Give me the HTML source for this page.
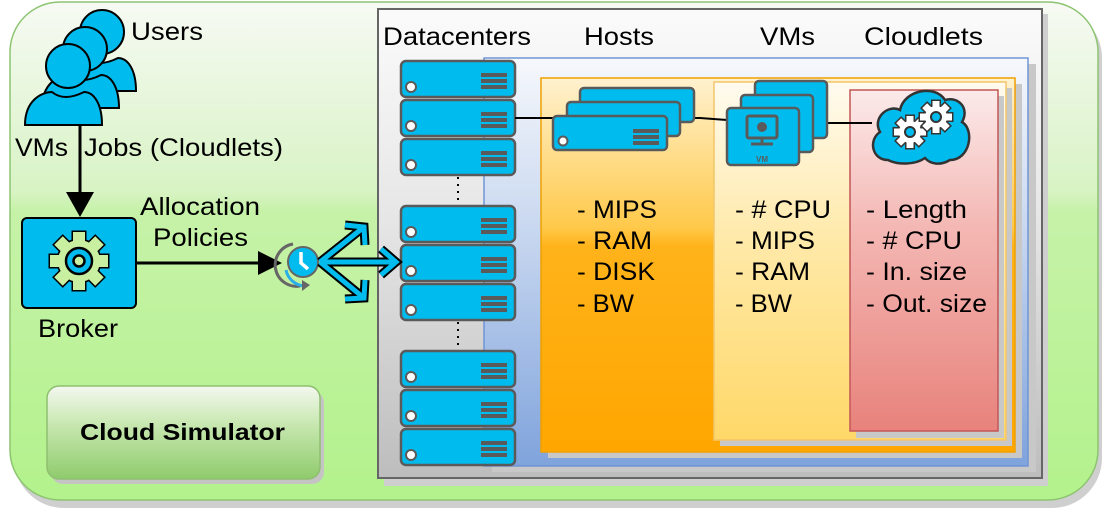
<!DOCTYPE html>
<html><head><meta charset="utf-8">
<style>
html,body{margin:0;padding:0;background:#fff;}
svg{display:block;}
text{font-family:"Liberation Sans",Arial,sans-serif;fill:#000;}
</style></head>
<body>
<svg width="1103" height="511" viewBox="0 0 1103 511" xmlns="http://www.w3.org/2000/svg">
<defs>
<linearGradient id="gOuter" x1="0" y1="0" x2="0" y2="1">
<stop offset="0" stop-color="#f7faf4"/><stop offset="0.38" stop-color="#d8f3c4"/><stop offset="0.42" stop-color="#c6f2a8"/><stop offset="1" stop-color="#b3f28c"/></linearGradient>
<linearGradient id="gGray" x1="0" y1="0" x2="0" y2="1">
<stop offset="0" stop-color="#fbfbfb"/><stop offset="0.45" stop-color="#e6e6e6"/><stop offset="1" stop-color="#bdbdbd"/></linearGradient>
<linearGradient id="gBlue" x1="0" y1="0" x2="0" y2="1">
<stop offset="0" stop-color="#f6f8fc"/><stop offset="0.45" stop-color="#c5d5ef"/><stop offset="1" stop-color="#7fa3dc"/></linearGradient>
<linearGradient id="gOrange" x1="0" y1="0" x2="0" y2="1">
<stop offset="0" stop-color="#fff2d0"/><stop offset="0.4" stop-color="#ffc94a"/><stop offset="0.45" stop-color="#ffb31a"/><stop offset="1" stop-color="#ffa600"/></linearGradient>
<linearGradient id="gYellow" x1="0" y1="0" x2="0" y2="1">
<stop offset="0" stop-color="#fffbef"/><stop offset="0.45" stop-color="#ffe9a8"/><stop offset="1" stop-color="#ffd868"/></linearGradient>
<linearGradient id="gPink" x1="0" y1="0" x2="0" y2="1">
<stop offset="0" stop-color="#fbeaea"/><stop offset="0.4" stop-color="#f4b8b4"/><stop offset="1" stop-color="#e8827c"/></linearGradient>
<linearGradient id="gBtn" x1="0" y1="0" x2="0" y2="1">
<stop offset="0" stop-color="#f4f8f0"/><stop offset="0.4" stop-color="#c9e8b2"/><stop offset="1" stop-color="#8fcb6c"/></linearGradient>
<g id="srv">
<rect x="0" y="0" width="114" height="36" rx="5" fill="#00bcee" stroke="#5a5a5a" stroke-width="2.5"/>
<circle cx="10" cy="26" r="5" fill="#fff" stroke="#5a5a5a" stroke-width="2"/>
<rect x="80" y="12" width="26" height="4" fill="#5a5a5a"/><rect x="80" y="18" width="26" height="4" fill="#5a5a5a"/><rect x="80" y="24" width="26" height="4" fill="#5a5a5a"/>
</g>
<g id="vm">
<rect x="0" y="0" width="72" height="57" rx="4" fill="#00bcee" stroke="#5a5a5a" stroke-width="2.5"/>
</g>
</defs>

<rect x="14" y="8" width="1088" height="500" rx="50" fill="#cfcfcf"/>
<rect x="10" y="2" width="1088" height="498" rx="50" fill="url(#gOuter)" stroke="#8dc471" stroke-width="1.5"/>

<rect x="384" y="14" width="664" height="472" fill="#cfcfcf"/>
<rect x="378" y="9" width="664" height="469" fill="url(#gGray)" stroke="#666" stroke-width="2"/>
<rect x="492" y="64" width="544" height="408" fill="#c8c8c8"/>
<rect x="484" y="58" width="544" height="408" fill="url(#gBlue)" stroke="#6f95d6" stroke-width="1.5"/>
<rect x="548" y="84" width="474" height="374" fill="#c8c8c8"/>
<rect x="541" y="78" width="474" height="374" fill="url(#gOrange)" stroke="#f0a000" stroke-width="1.5"/>
<rect x="720" y="88" width="292" height="358" fill="#c8c8c8"/>
<rect x="714" y="82" width="292" height="358" fill="url(#gYellow)" stroke="#f2c66a" stroke-width="1.5"/>
<rect x="856" y="96" width="148" height="342" fill="#c8c8c8"/>
<rect x="850" y="90" width="148" height="341" fill="url(#gPink)" stroke="#c25656" stroke-width="1.5"/>

<g font-size="25">
<text x="383" y="45" textLength="148" lengthAdjust="spacingAndGlyphs">Datacenters</text>
<text x="584" y="45" textLength="70" lengthAdjust="spacingAndGlyphs">Hosts</text>
<text x="760" y="45" textLength="55" lengthAdjust="spacingAndGlyphs">VMs</text>
<text x="864" y="45" textLength="119" lengthAdjust="spacingAndGlyphs">Cloudlets</text>
</g>

<use href="#srv" x="401" y="61"/><use href="#srv" x="401" y="100"/><use href="#srv" x="401" y="139"/>
<use href="#srv" x="401" y="206"/><use href="#srv" x="401" y="245"/><use href="#srv" x="401" y="284"/>
<use href="#srv" x="401" y="351"/><use href="#srv" x="401" y="390"/><use href="#srv" x="401" y="429"/>
<line x1="458" y1="177" x2="458" y2="205" stroke="#000" stroke-width="2" stroke-dasharray="2,5"/>
<line x1="458" y1="322" x2="458" y2="350" stroke="#000" stroke-width="2" stroke-dasharray="2,5"/>

<polyline points="515,118 553,118" stroke="#000" stroke-width="2" fill="none"/>
<polyline points="680,118 700,118 727,120" stroke="#000" stroke-width="2" fill="none"/>
<polyline points="812,123 872,123" stroke="#000" stroke-width="2" fill="none"/>

<rect x="580" y="88" width="114" height="34" rx="4" fill="#00bcee" stroke="#5a5a5a" stroke-width="2.5"/>
<rect x="567" y="102" width="113" height="34" rx="4" fill="#00bcee" stroke="#5a5a5a" stroke-width="2.5"/>
<g transform="translate(553,116)"><rect x="0" y="0" width="114" height="34" rx="4" fill="#00bcee" stroke="#5a5a5a" stroke-width="2.5"/>
<circle cx="10" cy="25" r="4.5" fill="#fff" stroke="#5a5a5a" stroke-width="2"/>
<rect x="80" y="13" width="26" height="4" fill="#5a5a5a"/><rect x="80" y="19" width="26" height="4" fill="#5a5a5a"/><rect x="80" y="25" width="26" height="4" fill="#5a5a5a"/></g>

<use href="#vm" x="755" y="81"/><use href="#vm" x="741" y="95"/><use href="#vm" x="727" y="108"/>
<g transform="translate(727,108)" fill="none" stroke="#5a5a5a" stroke-width="3">
<rect x="20" y="8" width="30" height="22" rx="2"/>
<line x1="35" y1="30" x2="35" y2="35"/><line x1="24" y1="36" x2="46" y2="36"/>
<circle cx="35" cy="19" r="5" fill="#5a5a5a" stroke="none"/>
</g>
<text x="762" y="162" font-size="8" font-weight="bold" text-anchor="middle" style="fill:#5a5a5a">VM</text>

<path d="M888,160 C872,160 868,140 880,132 C872,118 888,104 900,110 C904,90 935,84 945,100 C958,96 970,108 962,122 C975,130 970,160 950,160 C940,166 930,164 925,158 C915,165 898,165 888,160 Z" fill="#00bcee" stroke="#333" stroke-width="2.5"/>
<g id="cg" transform="translate(910,132)">
<g stroke="#333" stroke-width="3" fill="#fff">
<rect x="9" y="-3.5" width="7" height="7"/><rect x="9" y="-3.5" width="7" height="7" transform="rotate(45)"/><rect x="9" y="-3.5" width="7" height="7" transform="rotate(90)"/><rect x="9" y="-3.5" width="7" height="7" transform="rotate(135)"/><rect x="9" y="-3.5" width="7" height="7" transform="rotate(180)"/><rect x="9" y="-3.5" width="7" height="7" transform="rotate(225)"/><rect x="9" y="-3.5" width="7" height="7" transform="rotate(270)"/><rect x="9" y="-3.5" width="7" height="7" transform="rotate(315)"/>
<circle r="11"/></g>
<g fill="#fff"><rect x="9" y="-3.5" width="7" height="7"/><rect x="9" y="-3.5" width="7" height="7" transform="rotate(45)"/><rect x="9" y="-3.5" width="7" height="7" transform="rotate(90)"/><rect x="9" y="-3.5" width="7" height="7" transform="rotate(135)"/><rect x="9" y="-3.5" width="7" height="7" transform="rotate(180)"/><rect x="9" y="-3.5" width="7" height="7" transform="rotate(225)"/><rect x="9" y="-3.5" width="7" height="7" transform="rotate(270)"/><rect x="9" y="-3.5" width="7" height="7" transform="rotate(315)"/><circle r="11"/></g>
<circle r="5" fill="#00bcee" stroke="#333" stroke-width="2"/>
</g>
<use href="#cg" transform="translate(26,-15)"/>

<g font-size="25">
<text x="577" y="218" textLength="80" lengthAdjust="spacingAndGlyphs">- MIPS</text>
<text x="577" y="249" textLength="75" lengthAdjust="spacingAndGlyphs">- RAM</text>
<text x="577" y="280" textLength="78" lengthAdjust="spacingAndGlyphs">- DISK</text>
<text x="577" y="312" textLength="57" lengthAdjust="spacingAndGlyphs">- BW</text>
<text x="735" y="218" textLength="96" lengthAdjust="spacingAndGlyphs">- # CPU</text>
<text x="735" y="249" textLength="80" lengthAdjust="spacingAndGlyphs">- MIPS</text>
<text x="735" y="280" textLength="75" lengthAdjust="spacingAndGlyphs">- RAM</text>
<text x="735" y="312" textLength="57" lengthAdjust="spacingAndGlyphs">- BW</text>
<text x="866" y="218" textLength="101" lengthAdjust="spacingAndGlyphs">- Length</text>
<text x="866" y="249" textLength="96" lengthAdjust="spacingAndGlyphs">- # CPU</text>
<text x="866" y="280" textLength="101" lengthAdjust="spacingAndGlyphs">- In. size</text>
<text x="866" y="312" textLength="121" lengthAdjust="spacingAndGlyphs">- Out. size</text>
</g>

<g fill="#00bcee" stroke="#000" stroke-width="2">
<g transform="translate(34,-34)"><path d="M25,125 C25,100 42,92 52,92 Q64,102 84,92 C94,92 102,104 102,125 Z"/><circle cx="68" cy="66" r="22"/></g>
<g transform="translate(17,-17)"><path d="M25,125 C25,100 42,92 52,92 Q64,102 84,92 C94,92 102,104 102,125 Z"/><circle cx="68" cy="66" r="22"/></g>
<g><path d="M25,125 C25,100 42,92 52,92 Q64,102 84,92 C94,92 102,104 102,125 Z"/><circle cx="68" cy="66" r="22"/></g>
</g>
<g font-size="25">
<text x="131" y="40" textLength="72" lengthAdjust="spacingAndGlyphs">Users</text>
<text x="15" y="156" textLength="53" lengthAdjust="spacingAndGlyphs">VMs</text>
<text x="84" y="156" textLength="199" lengthAdjust="spacingAndGlyphs">Jobs (Cloudlets)</text>
<text x="140" y="215" textLength="120" lengthAdjust="spacingAndGlyphs">Allocation</text>
<text x="153" y="246" textLength="95" lengthAdjust="spacingAndGlyphs">Policies</text>
<text x="38" y="337" textLength="80" lengthAdjust="spacingAndGlyphs">Broker</text>
</g>

<line x1="80" y1="125" x2="80" y2="200" stroke="#000" stroke-width="3"/>
<polygon points="66,192 94,192 80,217" fill="#000"/>

<rect x="22" y="218" width="114" height="90" rx="5" fill="#00bcee" stroke="#000" stroke-width="2"/>
<g transform="translate(79,261)">
<g stroke="#000" stroke-width="3" fill="#c8f0a0">
<rect x="18" y="-6" width="11" height="12"/><rect x="18" y="-6" width="11" height="12" transform="rotate(45)"/><rect x="18" y="-6" width="11" height="12" transform="rotate(90)"/><rect x="18" y="-6" width="11" height="12" transform="rotate(135)"/><rect x="18" y="-6" width="11" height="12" transform="rotate(180)"/><rect x="18" y="-6" width="11" height="12" transform="rotate(225)"/><rect x="18" y="-6" width="11" height="12" transform="rotate(270)"/><rect x="18" y="-6" width="11" height="12" transform="rotate(315)"/>
<circle r="21"/></g>
<g fill="#c8f0a0"><rect x="18" y="-6" width="11" height="12"/><rect x="18" y="-6" width="11" height="12" transform="rotate(45)"/><rect x="18" y="-6" width="11" height="12" transform="rotate(90)"/><rect x="18" y="-6" width="11" height="12" transform="rotate(135)"/><rect x="18" y="-6" width="11" height="12" transform="rotate(180)"/><rect x="18" y="-6" width="11" height="12" transform="rotate(225)"/><rect x="18" y="-6" width="11" height="12" transform="rotate(270)"/><rect x="18" y="-6" width="11" height="12" transform="rotate(315)"/><circle r="21"/></g>
<circle r="13" fill="#00bcee" stroke="#000" stroke-width="2.5"/>
<circle r="5.5" fill="#c8f0a0" stroke="#000" stroke-width="2.5"/>
</g>

<line x1="136" y1="263" x2="262" y2="263" stroke="#000" stroke-width="3"/>
<polygon points="258,251 282,263 258,275" fill="#000"/>

<path d="M293,244 A20,20 0 0 0 300,286" fill="none" stroke="#666" stroke-width="3"/>
<path d="M286,270 A20,20 0 0 0 305,286" fill="none" stroke="#29aee8" stroke-width="3"/>
<polygon points="302,280 310,285 302,291" fill="#666"/>
<circle cx="303" cy="262" r="15" fill="#00bcee" stroke="#666" stroke-width="2"/>
<polyline points="301,252 301,263 308,269" fill="none" stroke="#fff" stroke-width="3.5"/>

<g stroke="#000" stroke-width="9" fill="none">
<path d="M320,262 L396,262 M381,249 L396,262 L381,275 M320,262 L364,227 M345,225 L364,227 L365,245 M320,262 L364,298 M345,299 L364,298 L365,280"/>
</g>
<g stroke="#00bcee" stroke-width="5" fill="none">
<path d="M320,262 L396,262 M381,249 L396,262 L381,275 M320,262 L364,227 M345,225 L364,227 L365,245 M320,262 L364,298 M345,299 L364,298 L365,280"/>
</g>

<rect x="51" y="391" width="273" height="93" rx="12" fill="#c4c4c4"/>
<rect x="47" y="386" width="273" height="93" rx="12" fill="url(#gBtn)" stroke="#8fbf70" stroke-width="1.5"/>
<text x="80" y="440" font-size="23" font-weight="bold" textLength="205" lengthAdjust="spacingAndGlyphs">Cloud Simulator</text>
</svg>
</body></html>
